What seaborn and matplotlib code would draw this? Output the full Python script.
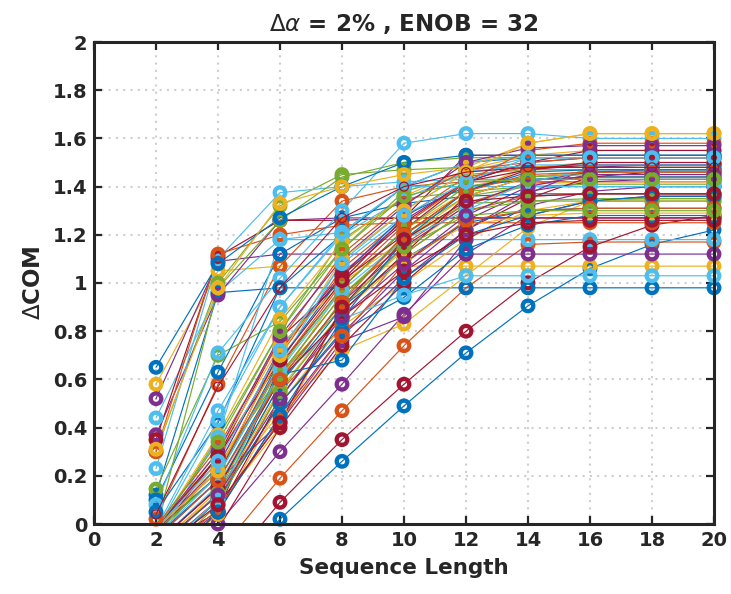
import numpy as np
import pandas as pd
import matplotlib
matplotlib.use("Agg")
import matplotlib.pyplot as plt
import seaborn as sns

seq_length = [2, 4, 6, 8, 10, 12, 14, 16, 18, 20]
x_ticks = list(range(0, 21, 2))
y_ticks = [0, 0.2, 0.4, 0.6, 0.8, 1, 1.2, 1.4, 1.6, 1.8, 2]
y_labels = ["0", "0.2", "0.4", "0.6", "0.8", "1", "1.2", "1.4", "1.6", "1.8", "2"]
color_cycle = ["#0072BD", "#D95319", "#EDB120", "#7E2F8E", "#77AC30", "#4DBEEE", "#A2142F"]

blue = [
    [-.60, -.28, .02, .26, .49, .71, .905, 1.06, 1.16, 1.22],
    [.12, .96, .98, .98, .98, .98, .98, .98, .98, .98],
    [.10, .63, 1.12, 1.27, 1.33, 1.36, 1.37, 1.37, 1.37, 1.37],
    [.05, .42, .98, 1.20, 1.40, 1.50, 1.52, 1.52, 1.52, 1.52],
    [-.02, .20, .68, 1.03, 1.28, 1.40, 1.43, 1.44, 1.44, 1.44],
    [-.10, .12, .58, .90, 1.10, 1.25, 1.30, 1.31, 1.31, 1.31],
    [-.15, .10, .50, .80, .94, 1.14, 1.24, 1.28, 1.28, 1.28],
    [-.05, .18, .62, .68, 1.02, 1.20, 1.28, 1.34, 1.36, 1.36],
    [.65, 1.08, 1.27, 1.40, 1.50, 1.53, 1.53, 1.53, 1.53, 1.53],
    [-.20, .05, .45, .85, 1.18, 1.38, 1.46, 1.47, 1.47, 1.47],
]
orange = [
    [-.45, -.12, .19, .47, .74, .98, 1.16, 1.17, 1.17, 1.17],
    [.02, .58, 1.07, 1.34, 1.40, 1.42, 1.42, 1.42, 1.42, 1.42],
    [-.03, .28, .70, 1.06, 1.27, 1.44, 1.48, 1.49, 1.49, 1.49],
    [-.08, .15, .62, .95, 1.16, 1.33, 1.41, 1.44, 1.44, 1.44],
    [.30, 1.12, 1.20, 1.24, 1.25, 1.25, 1.25, 1.25, 1.25, 1.25],
    [-.12, .10, .55, .82, 1.12, 1.30, 1.36, 1.37, 1.37, 1.37],
    [-.01, .32, .76, 1.12, 1.33, 1.47, 1.50, 1.52, 1.52, 1.52],
    [-.15, .06, .43, .78, 1.08, 1.26, 1.30, 1.31, 1.31, 1.31],
    [-.02, .22, .66, 1.00, 1.24, 1.42, 1.55, 1.58, 1.58, 1.58],
    [-.06, .18, .60, .92, 1.20, 1.38, 1.45, 1.46, 1.46, 1.46],
]
yellow = [
    [.58, 1.05, 1.07, 1.07, 1.07, 1.07, 1.07, 1.07, 1.07, 1.07],
    [-.10, .14, .46, .72, .83, 1.03, 1.23, 1.34, 1.34, 1.34],
    [-.05, .26, .60, .98, 1.22, 1.38, 1.48, 1.50, 1.50, 1.50],
    [-.12, .08, .40, .90, 1.14, 1.32, 1.41, 1.42, 1.42, 1.42],
    [-.18, .04, .50, .82, 1.00, 1.18, 1.30, 1.34, 1.35, 1.35],
    [-.03, .37, .85, 1.17, 1.36, 1.47, 1.53, 1.55, 1.55, 1.55],
    [-.08, .12, .56, .88, 1.10, 1.24, 1.28, 1.29, 1.29, 1.29],
    [-.03, .30, .74, 1.00, 1.18, 1.36, 1.44, 1.46, 1.46, 1.46],
    [.31, .98, 1.33, 1.40, 1.45, 1.48, 1.58, 1.62, 1.62, 1.62],
    [-.02, .22, .70, 1.10, 1.30, 1.46, 1.58, 1.62, 1.62, 1.62],
]
purple = [
    [.52, 1.09, 1.12, 1.12, 1.12, 1.12, 1.12, 1.12, 1.12, 1.12],
    [.37, .95, 1.26, 1.27, 1.27, 1.27, 1.27, 1.27, 1.27, 1.27],
    [-.25, .00, .30, .58, .87, 1.12, 1.28, 1.34, 1.36, 1.36],
    [-.12, .10, .50, .79, 1.05, 1.26, 1.38, 1.42, 1.43, 1.43],
    [-.06, .18, .42, .76, .86, 1.18, 1.32, 1.38, 1.40, 1.40],
    [-.03, .24, .73, 1.04, 1.26, 1.42, 1.50, 1.52, 1.52, 1.52],
    [-.15, .05, .45, .78, 1.02, 1.22, 1.37, 1.48, 1.49, 1.49],
    [-.08, .15, .60, .92, 1.15, 1.32, 1.42, 1.46, 1.47, 1.47],
    [-.02, .30, .78, 1.10, 1.32, 1.50, 1.56, 1.57, 1.57, 1.57],
    [-.10, .12, .52, .86, 1.08, 1.28, 1.40, 1.45, 1.45, 1.45],
]
green = [
    [.30, 1.00, 1.32, 1.45, 1.47, 1.48, 1.48, 1.48, 1.48, 1.48],
    [.145, .70, .84, 1.14, 1.38, 1.45, 1.47, 1.47, 1.47, 1.47],
    [-.04, .36, .80, 1.18, 1.35, 1.38, 1.40, 1.40, 1.40, 1.40],
    [-.10, .12, .58, .93, 1.20, 1.36, 1.40, 1.41, 1.41, 1.41],
    [-.02, .98, 1.26, 1.44, 1.50, 1.52, 1.52, 1.52, 1.52, 1.52],
    [-.06, .24, .62, .95, 1.18, 1.33, 1.34, 1.34, 1.34, 1.34],
    [-.16, .08, .55, .88, 1.12, 1.30, 1.34, 1.35, 1.35, 1.35],
    [-.03, .20, .65, .98, 1.22, 1.40, 1.44, 1.45, 1.45, 1.45],
    [-.12, .13, .62, .90, 1.15, 1.28, 1.30, 1.30, 1.30, 1.30],
    [-.02, .34, .80, 1.14, 1.36, 1.42, 1.43, 1.43, 1.43, 1.43],
]
cyan = [
    [.44, .96, 1.18, 1.18, 1.18, 1.18, 1.18, 1.18, 1.18, 1.18],
    [.23, 1.10, 1.375, 1.40, 1.42, 1.43, 1.43, 1.43, 1.43, 1.43],
    [.08, .71, 1.02, 1.30, 1.58, 1.62, 1.62, 1.60, 1.60, 1.60],
    [-.02, .47, .90, 1.21, 1.40, 1.50, 1.53, 1.53, 1.53, 1.53],
    [-.03, .43, .90, 1.20, 1.35, 1.46, 1.52, 1.52, 1.52, 1.52],
    [-.08, .36, 1.18, 1.21, 1.40, 1.40, 1.40, 1.40, 1.40, 1.40],
    [-.08, .16, .60, .85, .95, 1.03, 1.03, 1.03, 1.03, 1.03],
    [-.05, .20, .66, 1.09, 1.30, 1.46, 1.49, 1.49, 1.49, 1.49],
    [-.13, .10, .64, .97, 1.18, 1.30, 1.42, 1.47, 1.47, 1.47],
    [-.02, .26, .72, 1.08, 1.28, 1.42, 1.52, 1.52, 1.52, 1.52],
]
red = [
    [-.55, -.22, .09, .35, .58, .80, 1.00, 1.15, 1.24, 1.28],
    [.35, 1.11, 1.26, 1.26, 1.27, 1.27, 1.27, 1.27, 1.27, 1.27],
    [-.05, .28, .77, 1.01, 1.27, 1.53, 1.53, 1.53, 1.53, 1.53],
    [-.10, .05, .66, .98, 1.22, 1.42, 1.47, 1.49, 1.49, 1.49],
    [-.15, -.02, .40, .74, 1.00, 1.22, 1.35, 1.44, 1.46, 1.46],
    [-.03, .20, .72, 1.03, 1.25, 1.42, 1.50, 1.55, 1.55, 1.55],
    [-.20, .05, .52, .88, 1.12, 1.36, 1.44, 1.46, 1.46, 1.46],
    [-.08, .15, .60, .86, 1.05, 1.20, 1.25, 1.26, 1.26, 1.26],
    [-.02, .28, .68, 1.01, 1.20, 1.38, 1.47, 1.50, 1.50, 1.50],
    [-.12, .08, .42, .90, 1.18, 1.34, 1.36, 1.37, 1.37, 1.37],
]
ring_series = [.04, .57, .98, 1.27, 1.40, 1.46, 1.48, 1.48, 1.48, 1.48]

groups = [blue, orange, yellow, purple, green, cyan, red]
records = []
palette = {}
sid = 0
for row in range(10):
    for group, color in zip(groups, color_cycle):
        palette[sid] = color
        for x, y in zip(seq_length, group[row]):
            records.append((sid, x, y))
        sid += 1
df = pd.DataFrame(records, columns=["series", "length", "dcom"])
visible = df[df["dcom"] >= 0]
ring_df = pd.DataFrame({"length": seq_length, "dcom": ring_series})


def hollow(collection):
    """Seaborn colours the face of the points; the reference has open rings."""
    collection.set_edgecolor(collection.get_facecolor())
    collection.set_facecolor("none")


sns.set_theme(style="white")
plt.rcParams["font.family"] = ["DejaVu Sans"]
plt.rcParams["mathtext.fontset"] = "dejavusans"

fig = plt.figure(figsize=(7.31, 5.94), dpi=100)
ax = fig.add_axes([94 / 731, 1 - 524 / 594, 620 / 731, 482 / 594])

sns.lineplot(data=df, x="length", y="dcom", hue="series", palette=palette, units="series",
             estimator=None, legend=False, linewidth=0.85, ax=ax, zorder=2)
sns.scatterplot(data=visible, x="length", y="dcom", hue="series", palette=palette,
                marker="o", s=58, linewidth=3.1, legend=False, ax=ax, zorder=3, clip_on=False)
hollow(ax.collections[-1])
sns.lineplot(data=ring_df, x="length", y="dcom", color="#A2142F", linewidth=0.8, ax=ax, zorder=4)
sns.scatterplot(data=ring_df, x="length", y="dcom", color="#A2142F",
                marker="o", s=42, linewidth=0.9, legend=False, ax=ax, zorder=4, clip_on=False)
hollow(ax.collections[-1])

ax.set_xlim(0, 20)
ax.set_ylim(0, 2)
ax.set_xticks(x_ticks)
ax.set_yticks(y_ticks)
ax.set_yticklabels(y_labels)
ax.grid(True, linestyle=(0, (1, 2.5)), color="#cfcfcf", linewidth=1.5)
ax.set_axisbelow(True)
ax.tick_params(direction="in", length=6, width=1.6, color="#262626", top=True, right=True,
               bottom=True, left=True, labelsize=14, labelcolor="#262626", pad=5)
for label in ax.get_xticklabels() + ax.get_yticklabels():
    label.set_fontweight("bold")
for spine in ax.spines.values():
    spine.set_visible(True)
    spine.set_color("#262626")
    spine.set_linewidth(2.2)
    spine.set_zorder(5)

ax.set_xlabel("Sequence Length", fontsize=15.5, fontweight="bold", color="#262626", labelpad=6)
ax.set_ylabel(r"$\Delta$COM", fontsize=16.5, fontweight="bold", color="#262626", labelpad=5)
ax.set_title(r"$\Delta\alpha$ = 2% , ENOB = 32", fontsize=16.6, fontweight="bold",
             color="#262626", pad=8)

fig.savefig("out.png", dpi=100)
